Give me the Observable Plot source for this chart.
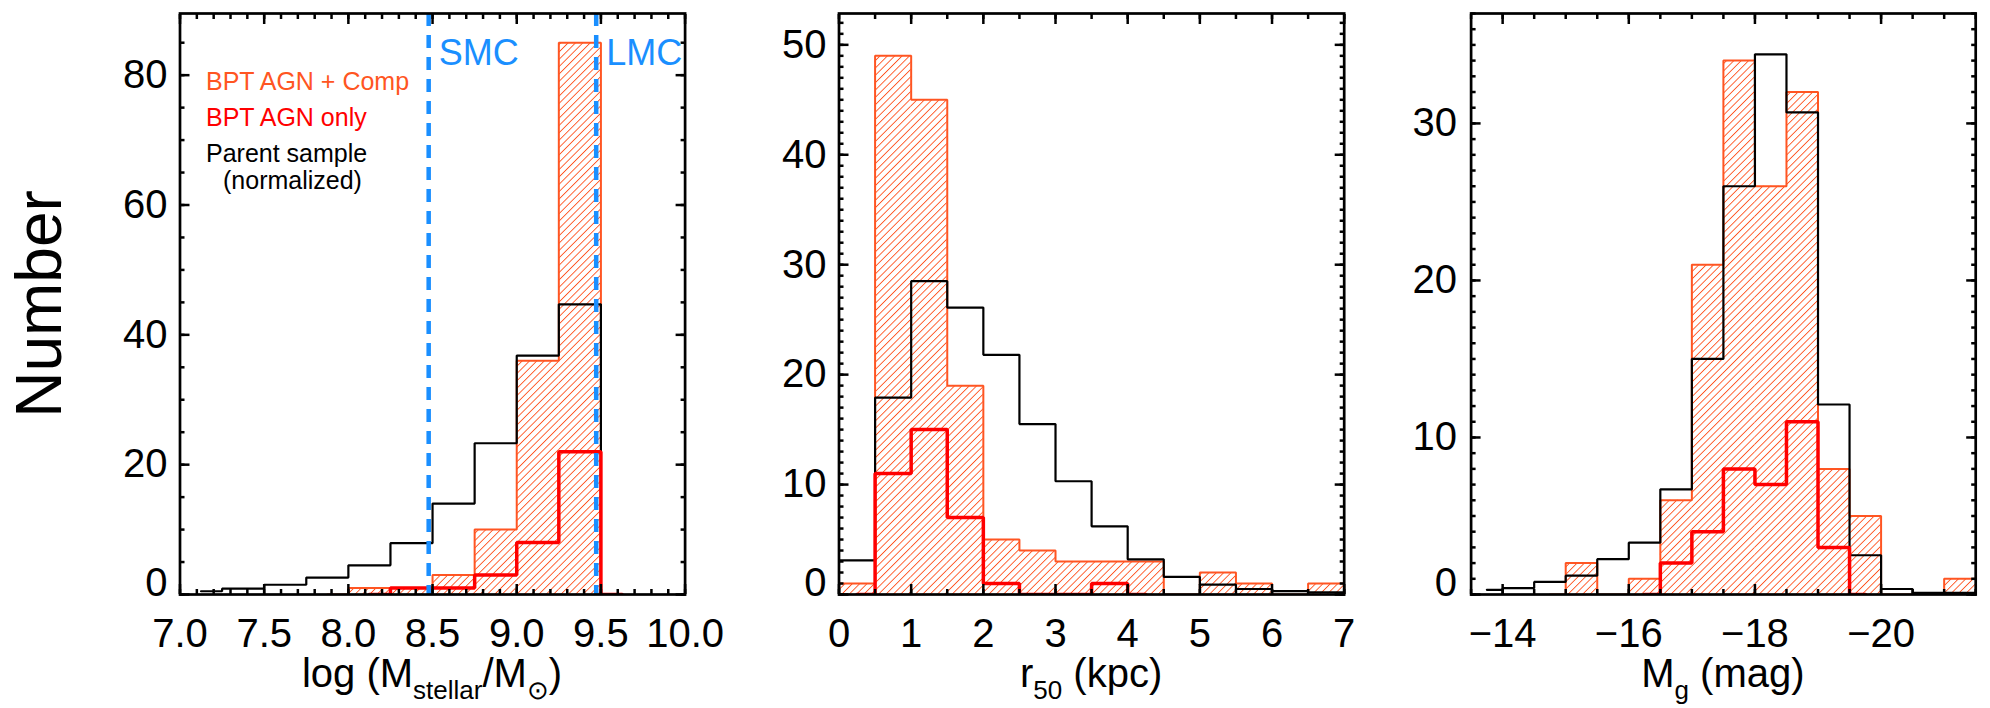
<!DOCTYPE html>
<html>
<head>
<meta charset="utf-8">
<script src="https://cdn.jsdelivr.net/npm/d3@7"></script>
<script src="https://cdn.jsdelivr.net/npm/@observablehq/plot@0.6"></script>
<style>
  html, body { margin: 0; padding: 0; background: #fff; }
  #wrap { position: relative; width: 1990px; height: 708px; overflow: hidden; font-family: "Liberation Sans", Arial, sans-serif; }
  #wrap > .panel { position: absolute; top: 0; }
</style>
</head>
<body>
<div id="wrap">
  <svg width="0" height="0" style="position:absolute">
    <defs>
      <pattern id="hatch" patternUnits="userSpaceOnUse" width="5.2" height="5.2" patternTransform="rotate(45)">
        <line x1="0" y1="0" x2="0" y2="5.2" stroke="#ff5522" stroke-width="1.8"></line>
      </pattern>
    </defs>
  </svg>
</div>
<script>
// ---------- data ----------
// Panel 1: log stellar mass, bins of 0.25 dex
const massBins = [7.0, 7.25, 7.5, 7.75, 8.0, 8.25, 8.5, 8.75, 9.0, 9.25, 9.5];
const massParent = [0.5, 0.9, 1.5, 2.6, 4.5, 7.9, 14.0, 23.3, 36.8, 44.7, 0];
const massAgnComp = [0, 0, 0, 0, 1, 1, 3, 10, 36, 85, 0];
const massAgnOnly = [0, 0, 0, 0, 0, 1, 1, 3, 8, 22, 0];
const massRanges = {parent: [7.125, 9.625], comp: [7.875, 9.625], only: [8.125, 9.625]};
const refLines = [8.477, 9.472];
const refLabels = ["SMC", "LMC"];

// Panel 2: r50 (kpc), bins of 0.5 kpc
const sizeBins = [0, 0.5, 1, 1.5, 2, 2.5, 3, 3.5, 4, 4.5, 5, 5.5, 6, 6.5];
const sizeParent = [3.1, 17.9, 28.5, 26.1, 21.8, 15.5, 10.3, 6.2, 3.2, 1.6, 0.9, 0.5, 0.3, 0.2];
const sizeAgnComp = [1, 49, 45, 19, 5, 4, 3, 3, 3, 0, 2, 1, 0, 1];
const sizeAgnOnly = [0, 11, 15, 7, 1, 0, 0, 1, 0, 0, 0, 0, 0, 0];
const sizeRanges = {parent: [0, 7], comp: [0, 7], only: [0.25, 4.25]};

// Panel 3: M_g (mag), bins of 0.5 mag (towards brighter)
const magBins = [-13.5, -14, -14.5, -15, -15.5, -16, -16.5, -17, -17.5, -18, -18.5, -19, -19.5, -20, -20.5, -21];
const magParent = [0.3, 0.4, 0.8, 1.2, 2.25, 3.3, 6.7, 15.0, 26.0, 34.4, 30.7, 12.1, 2.5, 0.35, 0.1, 0.1];
const magAgnComp = [0, 0, 0, 2, 0, 1, 6, 21, 34, 26, 32, 8, 5, 0, 0, 1];
const magAgnOnly = [0, 0, 0, 0, 0, 0, 2, 4, 8, 7, 11, 3, 0, 0, 0, 0];
const magRanges = {parent: [-13.75, -21.5], comp: [-14.75, -21.5], only: [-16.25, -19.75]};

const legendLabels = ["BPT AGN + Comp", "BPT AGN only", "Parent sample", "(normalized)"];
const yTitle = "Number";

// ---------- styles ----------
const ORANGE = "#ff5522", RED = "#ff0000", BLUE = "#1a8fff", BLACK = "#000";
const FONT = "Liberation Sans, Arial, Helvetica, sans-serif";
const TICKFONT = 40;

function stepPoints(starts, width, values, from, to) {
  const s = Math.sign(width);
  const pts = [];
  starts.forEach((a, i) => {
    const b = a + width;
    const lo = s * Math.max(s * a, s * from);
    const hi = s * Math.min(s * b, s * to);
    if (s * hi > s * lo) { pts.push({x: lo, y: values[i]}, {x: hi, y: values[i]}); }
  });
  return pts;
}
function barsOf(starts, width, values) {
  return starts.map((a, i) => ({x1: a, x2: a + width, v: values[i]})).filter(d => d.v > 0);
}
const minus = d => (d < 0 ? "\u2212" + Math.abs(d) : String(d));

function panel({starts, width, parent, comp, only, ranges, xDomain, yMax, xMajor, xMinor, yMajor, yMinor, xFormat, mLeft, mRight, svgWidth, yPad, extra = []}) {
  const tick = {fill: "none", strokeWidth: 2.5, label: null};
  return Plot.plot({
    width: svgWidth, height: 708,
    marginTop: 13, marginBottom: 114, marginLeft: mLeft, marginRight: mRight,
    style: {fontFamily: FONT, background: "transparent", overflow: "visible"},
    x: {domain: xDomain, axis: null},
    y: {domain: [0, yMax], axis: null},
    marks: [
      Plot.rect(barsOf(starts, width, comp), {x1: "x1", x2: "x2", y1: 0, y2: "v", fill: "url(#hatch)", clip: true}),
      Plot.line(stepPoints(starts, width, comp, ...ranges.comp), {x: "x", y: "y", stroke: ORANGE, strokeWidth: 2, strokeLinejoin: "miter", clip: true}),
      Plot.line(stepPoints(starts, width, parent, ...ranges.parent), {x: "x", y: "y", stroke: BLACK, strokeWidth: 2.2, strokeLinejoin: "miter", clip: true}),
      Plot.line(stepPoints(starts, width, only, ...ranges.only), {x: "x", y: "y", stroke: RED, strokeWidth: 3.5, strokeLinejoin: "miter", clip: true}),
      ...extra,
      Plot.frame({stroke: BLACK, strokeWidth: 2.7}),
      // ticks (inward) on all four sides
      Plot.axisX(xMajor, {anchor: "bottom", tickSize: -10, ...tick}),
      Plot.axisX(xMinor, {anchor: "bottom", tickSize: -5, ...tick}),
      Plot.axisX(xMajor, {anchor: "top", tickSize: -10, ...tick}),
      Plot.axisX(xMinor, {anchor: "top", tickSize: -5, ...tick}),
      Plot.axisY(yMajor, {anchor: "left", tickSize: -10, ...tick}),
      Plot.axisY(yMinor, {anchor: "left", tickSize: -5, ...tick}),
      Plot.axisY(yMajor, {anchor: "right", tickSize: -10, ...tick}),
      Plot.axisY(yMinor, {anchor: "right", tickSize: -5, ...tick}),
      // tick labels
      Plot.axisX(xMajor, {anchor: "bottom", tickSize: 0, tickPadding: 24, fontSize: TICKFONT, tickFormat: xFormat, label: null, fill: BLACK}),
      Plot.axisY(yMajor.filter(d => d !== 0), {anchor: "left", tickSize: 0, tickPadding: yPad, fontSize: TICKFONT, label: null, fill: BLACK}),
      Plot.axisY([0], {anchor: "left", tickSize: 0, tickPadding: yPad, dy: -11, fontSize: TICKFONT, label: null, fill: BLACK})
    ]
  });
}

function addTitle(svg, cx, parts) {
  const t = d3.select(svg).append("text")
    .attr("x", cx).attr("y", 687).attr("text-anchor", "middle")
    .attr("font-family", FONT).attr("font-size", 40).attr("fill", "#000");
  parts.forEach(([txt, sub]) => {
    const s = t.append("tspan").text(txt);
    if (sub === 1) s.attr("font-size", 26).attr("dy", 12);
    if (sub === -1) s.attr("dy", -12);
  });
}

const wrap = document.getElementById("wrap");

// ---------- Panel 1 ----------
const P1 = {left: 0, width: 700, mL: 179.5, mR: 15.4};
const p1 = panel({
  starts: massBins, width: 0.25, parent: massParent, comp: massAgnComp, only: massAgnOnly, ranges: massRanges,
  xDomain: [7, 10], yMax: 89.5,
  xMajor: d3.range(7, 10.001, 0.5), xMinor: d3.range(70, 101, 1).map(d => d / 10),
  yMajor: [0, 20, 40, 60, 80], yMinor: d3.range(0, 90, 5),
  xFormat: d3.format(".1f"), mLeft: P1.mL, mRight: P1.mR, svgWidth: P1.width, yPad: 12.5,
  extra: [
    Plot.ruleX(refLines, {stroke: BLUE, strokeWidth: 4.5, strokeDasharray: "13,9"}),
    Plot.text(refLines, {x: d => d, text: (d, i) => refLabels[i], frameAnchor: "top", dx: 10, dy: 51, textAnchor: "start", lineAnchor: "bottom", fill: BLUE, fontSize: 36}),
    Plot.text([legendLabels[0]], {frameAnchor: "top-left", dx: 26, dy: 76, textAnchor: "start", lineAnchor: "bottom", fill: ORANGE, fontSize: 25}),
    Plot.text([legendLabels[1]], {frameAnchor: "top-left", dx: 26, dy: 112, textAnchor: "start", lineAnchor: "bottom", fill: RED, fontSize: 25}),
    Plot.text([legendLabels[2]], {frameAnchor: "top-left", dx: 26, dy: 148, textAnchor: "start", lineAnchor: "bottom", fill: BLACK, fontSize: 25}),
    Plot.text([legendLabels[3]], {frameAnchor: "top-left", dx: 43, dy: 175.5, textAnchor: "start", lineAnchor: "bottom", fill: BLACK, fontSize: 25}),
    Plot.text([yTitle], {frameAnchor: "left", dx: -139.5, rotate: -90, textAnchor: "middle", lineAnchor: "middle", fill: BLACK, fontSize: 64})
  ]
});
p1.classList.add("panel"); p1.style.left = P1.left + "px";
addTitle(p1, (P1.mL + P1.width - P1.mR) / 2, [["log (M", 0], ["stellar", 1], ["/M", -1], ["\u2299", 1], [")", -1]]);
wrap.appendChild(p1);

// ---------- Panel 2 ----------
const P2 = {left: 700, width: 660, mL: 138.5, mR: 16.3};
const p2 = panel({
  starts: sizeBins, width: 0.5, parent: sizeParent, comp: sizeAgnComp, only: sizeAgnOnly, ranges: sizeRanges,
  xDomain: [0, 7], yMax: 52.85,
  xMajor: d3.range(0, 8, 1), xMinor: d3.range(0, 7.01, 0.5),
  yMajor: [0, 10, 20, 30, 40, 50], yMinor: d3.range(0, 53, 1),
  xFormat: d => String(d), mLeft: P2.mL, mRight: P2.mR, svgWidth: P2.width, yPad: 12.5
});
p2.classList.add("panel"); p2.style.left = P2.left + "px";
addTitle(p2, (P2.mL + P2.width - P2.mR) / 2, [["r", 0], ["50", 1], [" (kpc)", -1]]);
wrap.appendChild(p2);

// ---------- Panel 3 ----------
const P3 = {left: 1360, width: 630, mL: 110.6, mR: 14.8};
const p3 = panel({
  starts: magBins, width: -0.5, parent: magParent, comp: magAgnComp, only: magAgnOnly, ranges: magRanges,
  xDomain: [-13.5, -21.5], yMax: 37,
  xMajor: [-14, -16, -18, -20], xMinor: d3.range(-135, -216, -5).map(d => d / 10),
  yMajor: [0, 10, 20, 30], yMinor: d3.range(0, 38, 1),
  xFormat: minus, mLeft: P3.mL, mRight: P3.mR, svgWidth: P3.width, yPad: 14
});
p3.classList.add("panel"); p3.style.left = P3.left + "px";
addTitle(p3, (P3.mL + P3.width - P3.mR) / 2, [["M", 0], ["g", 1], [" (mag)", -1]]);
wrap.appendChild(p3);
</script>
</body>
</html>
